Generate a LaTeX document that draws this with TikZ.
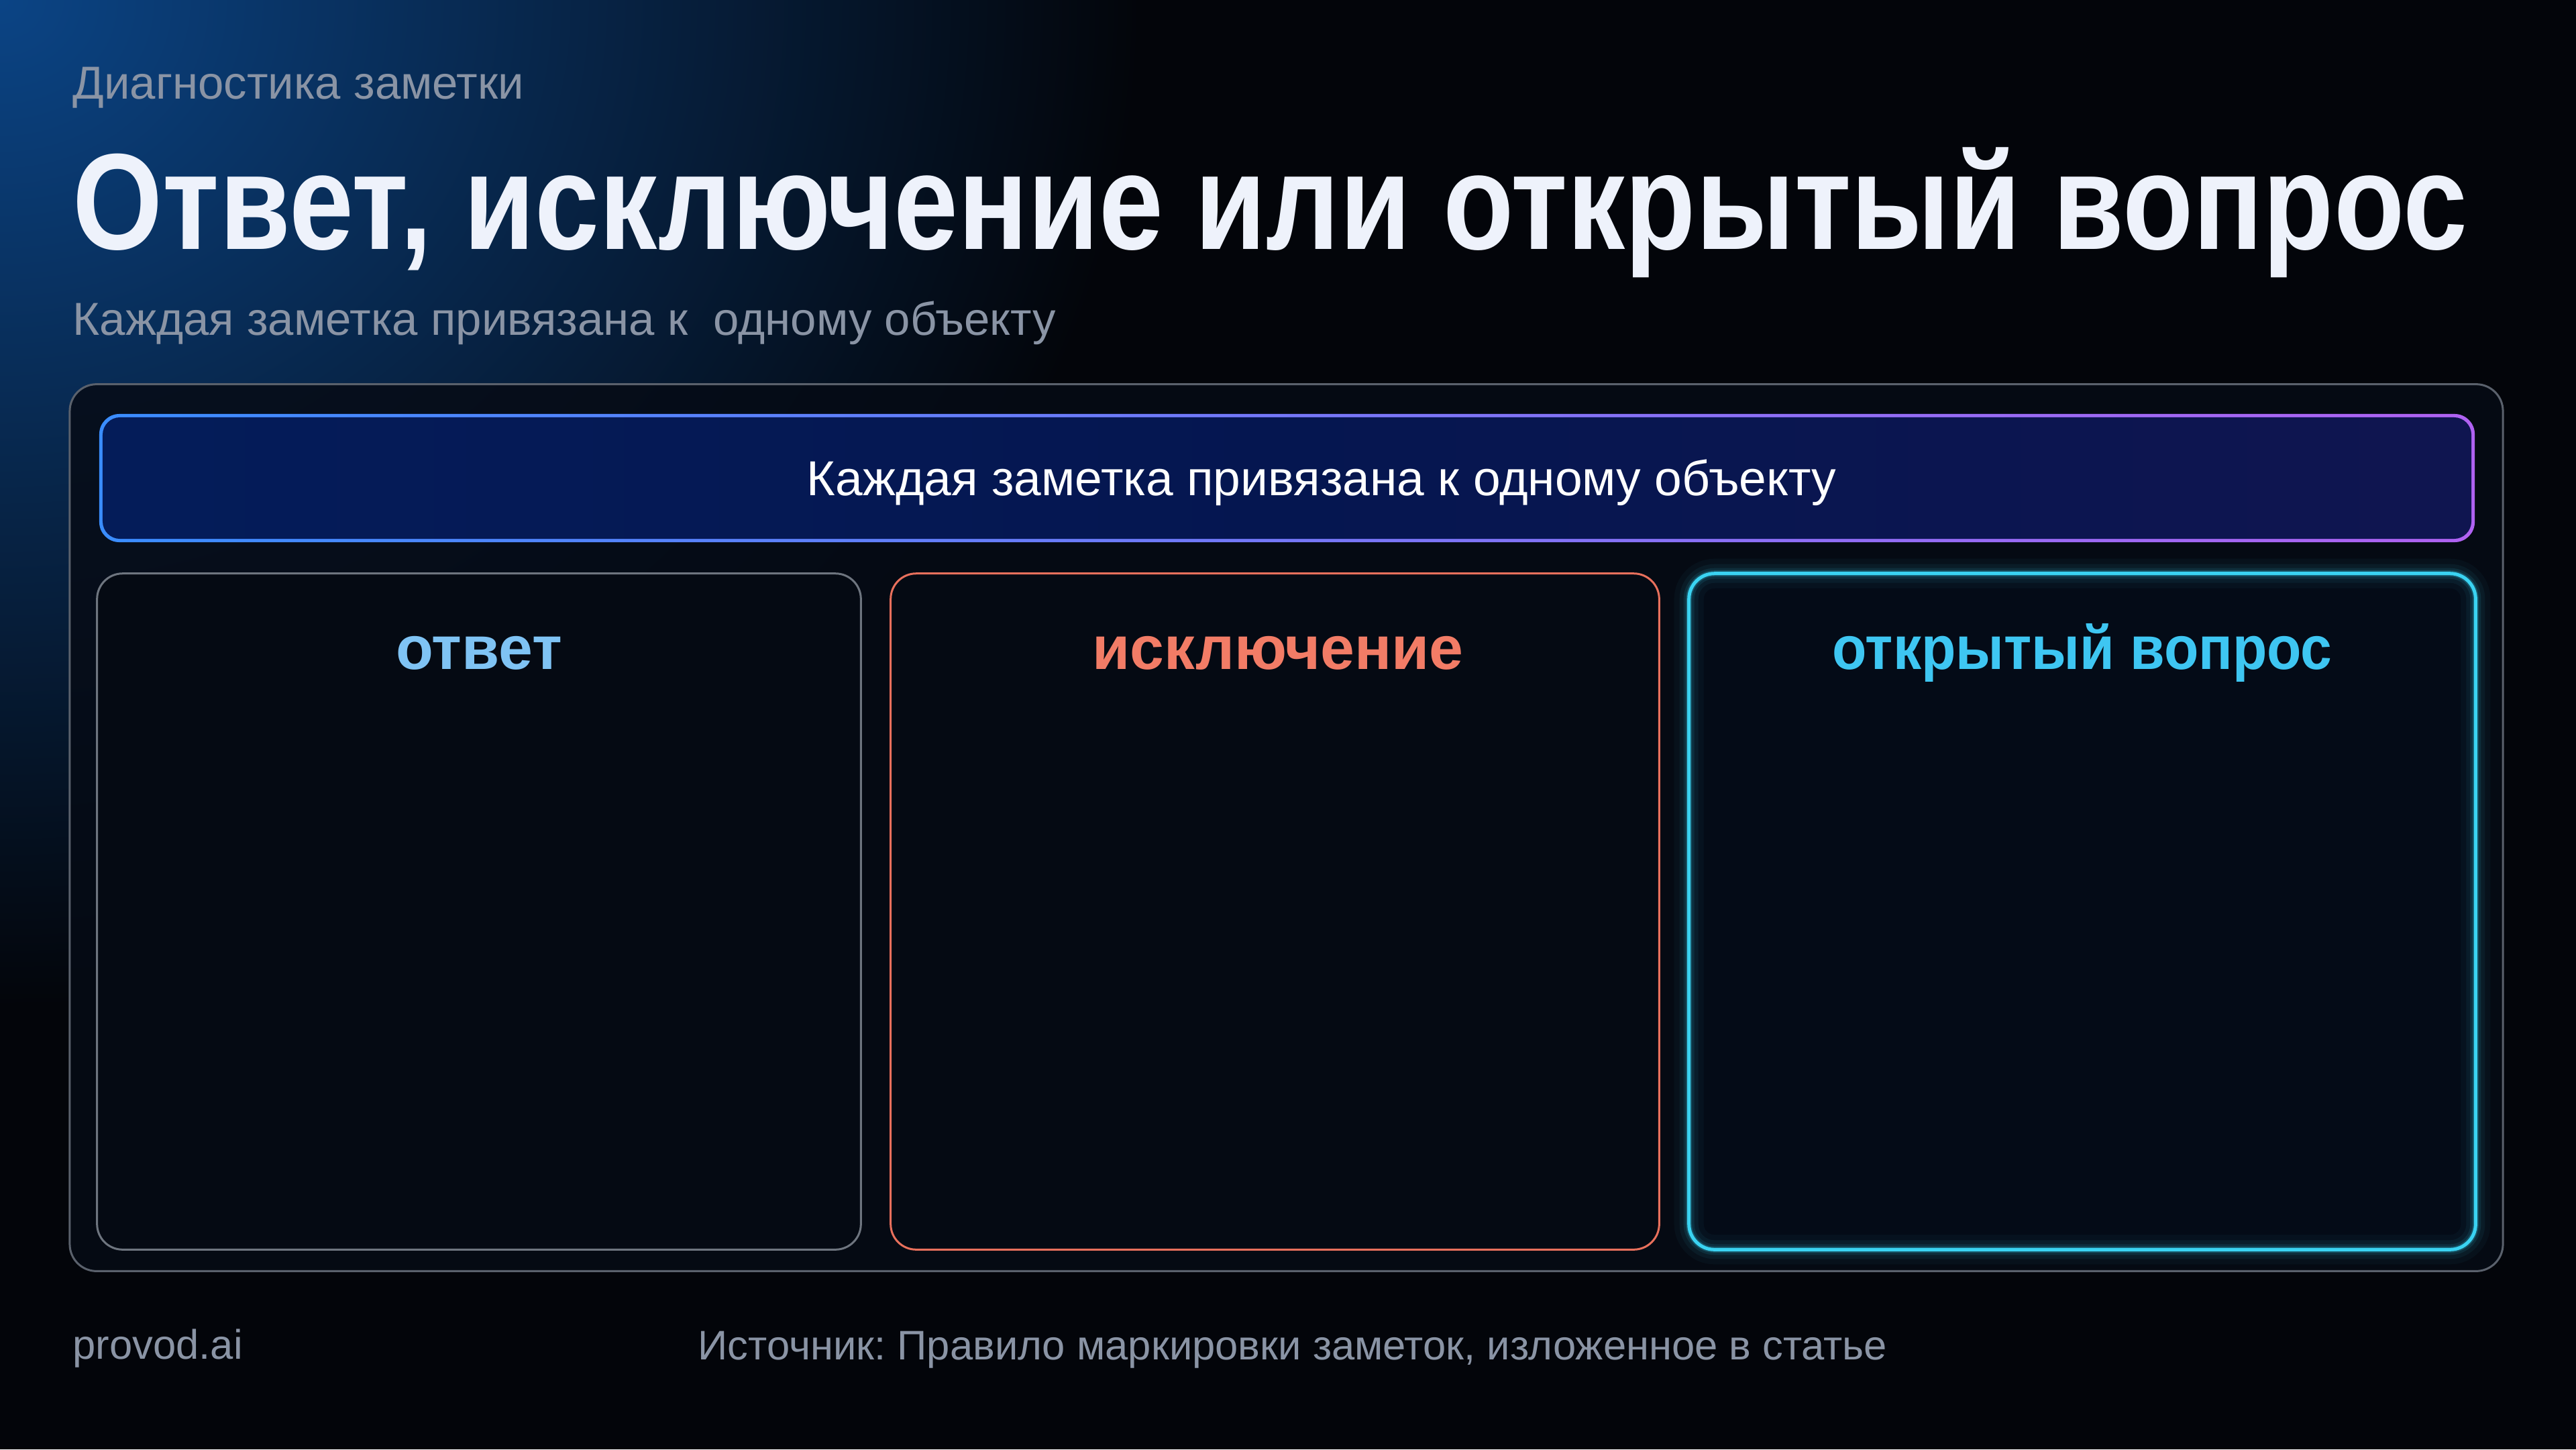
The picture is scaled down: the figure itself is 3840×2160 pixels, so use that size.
\documentclass[tikz,border=0pt]{standalone}
\usepackage{fontspec}
\setmainfont{Liberation Sans}
\usepackage{graphicx}
\frenchspacing
\definecolor{bg}{HTML}{03050A}
\definecolor{glowblue}{HTML}{0B4485}
\definecolor{greytext}{HTML}{8A94A5}
\definecolor{titlewhite}{HTML}{EEF2FB}
\definecolor{panelfill}{HTML}{060B15}
\definecolor{panelline}{HTML}{5A616C}
\definecolor{rimblue}{HTML}{3A8DFF}
\definecolor{rimmid}{HTML}{6E72F2}
\definecolor{rimpurple}{HTML}{B062F2}
\definecolor{banA}{HTML}{0A4AB8}
\definecolor{banB}{HTML}{04205F}
\definecolor{banC}{HTML}{051650}
\definecolor{banD}{HTML}{1A1450}
\definecolor{boxfill}{HTML}{050A13}
\definecolor{greyline}{HTML}{6E757F}
\definecolor{salmon}{HTML}{E8705C}
\definecolor{salmontext}{HTML}{F27C66}
\definecolor{cyanline}{HTML}{3AD3F2}
\definecolor{cyantext}{HTML}{3EC6F2}
\definecolor{anstext}{HTML}{7FC3F4}
\definecolor{cyanfill}{HTML}{040B17}
\pgfdeclarehorizontalshading{banshade}{100bp}{color(0bp)=(banA); color(10bp)=(banB); color(50bp)=(banC); color(100bp)=(banD)}
\begin{document}
\begin{tikzpicture}[x=0.01cm,y=-0.01cm,
  smalltext/.style={text=greytext, font=\fontsize{19.6pt}{23pt}\selectfont, inner sep=0pt},
  foottext/.style={text=greytext, font=\fontsize{17.5pt}{21pt}\selectfont, inner sep=0pt},
  panel/.style={draw=panelline, line width=0.03cm, fill=panelfill, fill opacity=0.85, rounded corners=0.4cm},
  bannerrim/.style={rounded corners=0.3cm, left color=rimblue, middle color=rimmid, right color=rimpurple, draw=none},
  bannerfill/.style={rounded corners=0.26cm, shading=banshade, draw=none},
  cardbox/.style={rounded corners=0.38cm, line width=0.03cm, fill=boxfill},
  cardtitle/.style={font=\fontsize{26pt}{30pt}\selectfont\bfseries, inner sep=0pt, anchor=base},
  glow/.style={preaction={fill=cyanfill},
               preaction={draw=#1, line width=0.44cm, draw opacity=0.04},
               preaction={draw=#1, line width=0.28cm, draw opacity=0.06},
               preaction={draw=#1, line width=0.16cm, draw opacity=0.10},
               preaction={draw=#1, line width=0.09cm, draw opacity=0.22}}
]
\useasboundingbox (0,0) rectangle (3840,2160);
\fill[bg] (0,0) rectangle (3840,2160);
\begin{scope}
  \clip (0,0) rectangle (3840,2160);
  \shade[inner color=glowblue, outer color=bg] (0,0) ellipse [x radius=1700, y radius=1500];
\end{scope}

% header
\node[smalltext, anchor=base west] (kicker) at (108,147) {Диагностика заметки};
\node[anchor=base west, inner sep=0pt, text=titlewhite, font=\fontsize{58pt}{66pt}\selectfont\bfseries] (title) at (108,371)
  {\scalebox{0.845}[1]{Ответ, исключение или открытый вопрос}};
\node[smalltext, anchor=base west] (subtitle) at (108,499) {Каждая заметка привязана к\ \ одному объекту};

% panel
\node[panel, minimum width=36.25cm, minimum height=13.21cm] (panel) at (1917.5,1233.5) {};

% banner
\node[bannerrim, minimum width=35.39cm, minimum height=1.91cm] (bannerrim) at (1918.5,712.5) {};
\node[bannerfill, minimum width=35.29cm, minimum height=1.81cm] (banner) at (1918.5,712.5) {};
\node[anchor=base, inner sep=0pt, text=white, font=\fontsize{20.8pt}{24pt}\selectfont] (bannertext) at (1970,738)
  {Каждая заметка привязана к одному объекту};

% cards
\node[cardbox, draw=greyline, minimum width=11.38cm, minimum height=10.07cm] (card1) at (714,1358.5) {};
\node[cardbox, draw=salmon, minimum width=11.45cm, minimum height=10.07cm] (card2) at (1900.5,1358.5) {};
\node[cardbox, glow=cyanline, fill=none, draw=cyanline, line width=0.05cm, minimum width=11.72cm, minimum height=10.07cm] (card3) at (3104,1358.5) {};

\node[cardtitle, text=anstext] (t1) at (714,997) {ответ};
\node[cardtitle, text=salmontext] (t2) at (1905,997) {исключение};
\node[cardtitle, text=cyantext] (t3) at (3104,997) {\scalebox{0.92}[1]{открытый вопрос}};

% footer
\node[foottext, anchor=base west] (brand) at (108,2025) {provod.ai};
\node[foottext, anchor=base west] (source) at (1040,2026) {Источник: Правило маркировки заметок, изложенное в статье};
\end{tikzpicture}
\end{document}
